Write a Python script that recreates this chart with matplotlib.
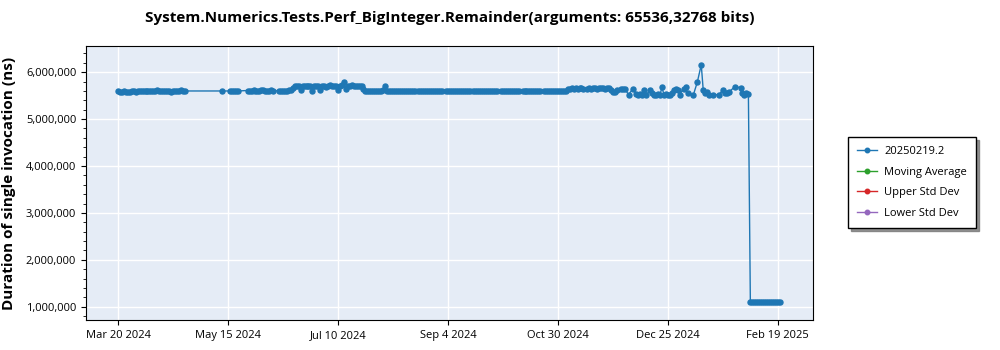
import numpy as np
import pandas as pd
import matplotlib
matplotlib.use("Agg")
import matplotlib.pyplot as plt
import matplotlib.ticker as mticker

plt.rcParams['font.family'] = ['Open Sans', 'DejaVu Sans']

title = "System.Numerics.Tests.Perf_BigInteger.Remainder(arguments: 65536,32768 bits)"
start = pd.Timestamp("2024-03-20")

# days since Mar 20 2024 and duration in millions of ns
days_a = list(range(0, 35)) + [53] + list(range(57, 62)) + list(range(66, 80)) + list(range(82, 89))
vals_a = [5.59, 5.58, 5.58, 5.59, 5.57, 5.58, 5.58, 5.59, 5.60, 5.58, 5.59, 5.60, 5.61, 5.60, 5.59,
          5.60, 5.61, 5.60, 5.59, 5.61, 5.62, 5.61, 5.60, 5.59, 5.60, 5.59, 5.60, 5.58, 5.59, 5.59,
          5.60, 5.61, 5.62, 5.61, 5.60,
          5.60,
          5.60, 5.59, 5.60, 5.59, 5.60,
          5.61, 5.60, 5.61, 5.62, 5.61, 5.60, 5.61, 5.62, 5.62, 5.61, 5.60, 5.61, 5.62, 5.61,
          5.60, 5.61, 5.60, 5.61, 5.60, 5.62, 5.63]

days_b = list(range(89, 125))
vals_b = [5.66, 5.70, 5.71, 5.70, 5.62, 5.70, 5.71, 5.70, 5.70, 5.71, 5.61, 5.70, 5.70, 5.71, 5.62,
          5.70, 5.71, 5.69, 5.70, 5.72, 5.70, 5.71, 5.70, 5.62, 5.70, 5.72, 5.79, 5.65, 5.70, 5.71,
          5.72, 5.71, 5.70, 5.70, 5.71, 5.70]

days_c = [d for d in range(125, 229) if d not in (152, 166, 180, 194, 205, 216)]
vals_c = [5.65, 5.60, 5.59, 5.60, 5.59, 5.60, 5.59, 5.59, 5.60, 5.60, 5.62, 5.70, 5.61, 5.60, 5.59,
          5.60, 5.59, 5.60, 5.60, 5.59, 5.60, 5.59, 5.60, 5.61, 5.60, 5.59, 5.60,
          5.59, 5.60, 5.60, 5.59, 5.60, 5.59, 5.60, 5.60, 5.59, 5.60, 5.61, 5.60,
          5.59, 5.60, 5.60, 5.59, 5.60, 5.59, 5.60, 5.60, 5.59, 5.60, 5.59, 5.60, 5.60,
          5.59, 5.60, 5.59, 5.60, 5.60, 5.59, 5.60, 5.59, 5.60, 5.61, 5.60, 5.59, 5.60,
          5.59, 5.60, 5.60, 5.59, 5.60, 5.59, 5.60, 5.60, 5.59, 5.60,
          5.60, 5.59, 5.60, 5.59, 5.60, 5.60, 5.59, 5.60, 5.59, 5.60,
          5.59, 5.60, 5.60, 5.59, 5.60, 5.59, 5.60, 5.60, 5.61, 5.60, 5.59, 5.60, 5.60]

days_d = [d for d in range(229, 251) if d != 238]
vals_d = [5.64, 5.65, 5.66, 5.65, 5.66, 5.65, 5.66, 5.66, 5.65,
          5.65, 5.66, 5.65, 5.66, 5.66, 5.65, 5.66, 5.67, 5.66, 5.65, 5.66, 5.66]

days_e = [251, 252, 253, 254, 256, 257, 258, 260, 262, 264, 265, 266, 267, 268, 269, 271, 272, 273,
          274, 275, 276, 277, 278, 279, 280, 281, 282, 283, 284, 285, 286, 288, 289, 290, 293, 295,
          297, 298, 299, 300, 301, 303, 306, 308, 309, 310, 311, 314, 317, 318, 319, 320, 321]
vals_e = [5.62, 5.57, 5.58, 5.62, 5.65, 5.64, 5.65, 5.52, 5.64, 5.54, 5.52, 5.53, 5.52, 5.62, 5.52,
          5.62, 5.55, 5.52, 5.52, 5.53, 5.52, 5.68, 5.52, 5.53, 5.52, 5.52, 5.55, 5.62, 5.64, 5.63,
          5.52, 5.65, 5.68, 5.55, 5.52, 5.79, 6.16, 5.62, 5.55, 5.57, 5.52, 5.52, 5.52, 5.62, 5.55,
          5.56, 5.57, 5.69, 5.67, 5.55, 5.52, 5.55, 5.53]

days_f = list(range(322, 338))
vals_f = [1.10, 1.11, 1.10, 1.10, 1.09, 1.10, 1.09, 1.09, 1.10, 1.09, 1.09, 1.10, 1.10, 1.09, 1.10, 1.10]

days = days_a + days_b + days_c + days_d + days_e + days_f
vals = vals_a + vals_b + vals_c + vals_d + vals_e + vals_f
dates = start + pd.to_timedelta(days, unit="D")
values = np.array(vals) * 1e6

tick_days = [0, 56, 112, 168, 224, 280, 336]

fig = plt.figure(figsize=(10, 3.5), dpi=100)
ax = fig.add_axes([0.086, 0.0857, 0.727, 0.783])
ax.set_facecolor("#E5ECF6")

ax.plot(dates, values, color="#1f77b4", lw=1, marker="o", ms=3.6, label="20250219.2")
ax.plot([], [], color="#2ca02c", lw=1, marker="o", ms=3.6, label="Moving Average")
ax.plot([], [], color="#d62728", lw=1, marker="o", ms=3.6, label="Upper Std Dev")
ax.plot([], [], color="#9467bd", lw=1, marker="o", ms=3.6, label="Lower Std Dev")

ax.set_xlim(start + pd.Timedelta(days=-16.3), start + pd.Timedelta(days=353.9))
ax.set_ylim(716000, 6560000)

ticks = [start + pd.Timedelta(days=d) for d in tick_days]
ax.set_xticks(ticks)
ax.set_xticklabels([f"{t:%b} {t.day} {t.year}" for t in ticks], fontsize=8)
ax.yaxis.set_major_locator(mticker.MultipleLocator(1000000))
ax.yaxis.set_minor_locator(mticker.MultipleLocator(200000))
ax.yaxis.set_major_formatter(mticker.FuncFormatter(lambda v, p: f"{v:,.0f}"))
ax.tick_params(axis="y", labelsize=8)
ax.grid(True, color="white", lw=1)
ax.set_axisbelow(True)
for s in ax.spines.values():
    s.set_color("black")

ax.set_ylabel("Duration of single invocation (ns)", fontsize=11, fontweight="bold", labelpad=7)
fig.text(0.4495, 0.948, title, ha="center", va="center", fontsize=11, fontweight="bold")

leg = fig.legend(loc="upper left", bbox_to_anchor=(0.848, 0.609), fontsize=8, frameon=True,
                 fancybox=False, shadow={"color": "#777777", "alpha": 0.8},
                 edgecolor="black", handlelength=1.8, numpoints=1,
                 markerscale=0.9, labelspacing=0.85, borderpad=0.85, borderaxespad=0,
                 handletextpad=0.6)
leg.get_frame().set_linewidth(1)

plt.savefig("out.png", dpi=100)
